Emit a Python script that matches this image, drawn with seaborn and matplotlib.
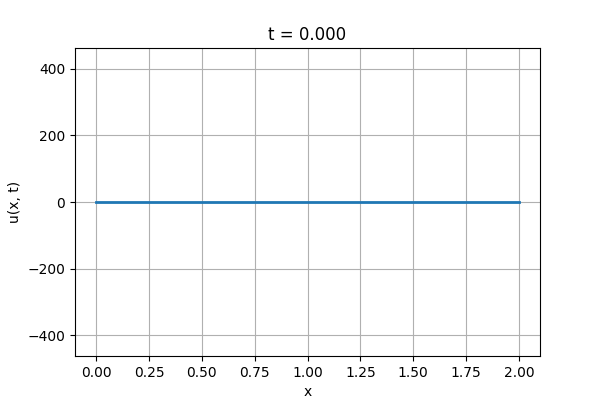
import matplotlib
matplotlib.use("Agg")
import matplotlib.pyplot as plt
import seaborn as sns
import pandas as pd

# solution snapshot at t = 0: flat everywhere
x_vals = [0.0, 0.25, 0.5, 0.75, 1.0, 1.25, 1.5, 1.75, 2.0]
u_vals = [0.0, 0.0, 0.0, 0.0, 0.0, 0.0, 0.0, 0.0, 0.0]
t_now = 0.0

df = pd.DataFrame({'x': x_vals, 'u': u_vals})

fig, ax = plt.subplots(figsize=(6, 4), dpi=100)
sns.lineplot(data=df, x='x', y='u', ax=ax, color='C0', linewidth=2)
ax.set_ylim(-463, 463)
ax.set_xlabel('x')
ax.set_ylabel('u(x, t)')
ax.set_title(f't = {t_now:.3f}')
ax.grid(True)
fig.savefig('out.png')
